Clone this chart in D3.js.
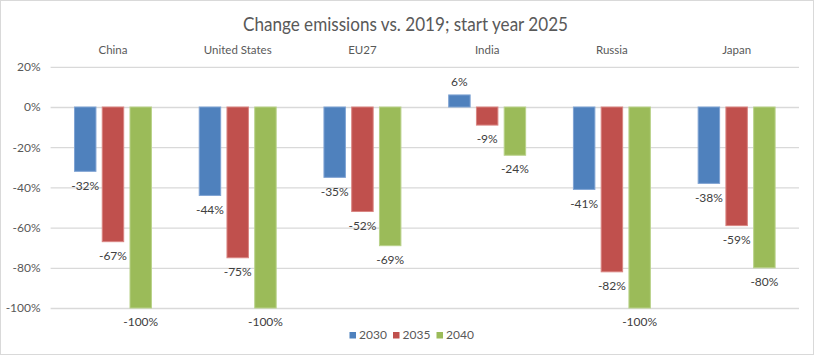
<!DOCTYPE html>
<html>
<head>
<meta charset="utf-8">
<script src="https://cdn.jsdelivr.net/npm/d3@7"></script>
<style>
  html, body { margin: 0; padding: 0; background: #fff; }
  svg { display: block; }
  text { font-family: Lato, "Open Sans", sans-serif; }
</style>
</head>
<body>
<svg id="chart" width="814" height="355"></svg>
<script>
const categories = ["China", "United States", "EU27", "India", "Russia", "Japan"];
const seriesNames = ["2030", "2035", "2040"];
const values2030 = [-32, -44, -35, 6, -41, -38];
const values2035 = [-67, -75, -52, -9, -82, -59];
const values2040 = [-100, -100, -69, -24, -100, -80];
const yTicks = [20, 0, -20, -40, -60, -80, -100];
const colors = ["#4F81BD", "#C0504D", "#9BBB59"];
const strokes = ["#7FA3D3", "#D98582", "#B9D28A"];
const title = "Change emissions vs. 2019; start year 2025";

const seriesValues = [values2030, values2035, values2040];

const W = 814, H = 355;
const svg = d3.select("#chart");

// chart border
svg.append("rect").attr("x", 0.5).attr("y", 0.5).attr("width", W - 1).attr("height", H - 1)
  .attr("fill", "#fff").attr("stroke", "#D9D9D9");

const plot = { left: 50.6, right: 799, top: 66.8, bottom: 308 };

const y = d3.scaleLinear().domain([-100, 20]).range([plot.bottom, plot.top]);
const x0 = d3.scaleBand().domain(categories).range([plot.left, plot.right])
  .paddingInner(0.383).paddingOuter(0.1915);
const x1 = d3.scaleBand().domain(seriesNames).range([0, x0.bandwidth()])
  .paddingInner(0.227).paddingOuter(0);

// title
svg.append("text").attr("x", 405.5).attr("y", 31).attr("text-anchor", "middle")
  .attr("font-size", 18.5).attr("fill", "#595959")
  .attr("textLength", 325).attr("lengthAdjust", "spacingAndGlyphs").text(title);

// gridlines
const yAxis = d3.axisLeft(y).tickValues(yTicks).tickSize(-(plot.right - plot.left))
  .tickPadding(10).tickFormat(d => d + "%");
const gy = svg.append("g").attr("transform", `translate(${plot.left},0)`).call(yAxis);
gy.select(".domain").remove();
gy.selectAll(".tick line").attr("stroke", "#D9D9D9").attr("stroke-width", 1.3);
gy.selectAll(".tick text").attr("fill", "#595959").attr("font-size", 12)
  .attr("font-family", "Lato, sans-serif");

// category labels at top
const xAxis = d3.axisTop(x0).tickSize(0).tickPadding(0);
const gx = svg.append("g").attr("transform", `translate(0,54)`).call(xAxis);
gx.select(".domain").remove();
gx.selectAll(".tick text").attr("fill", "#595959").attr("font-size", 11.5)
  .attr("font-family", "Lato, sans-serif");

// bars
const data = [];
categories.forEach((c, i) => {
  seriesNames.forEach((s, j) => data.push({ cat: c, series: s, si: j, v: seriesValues[j][i] }));
});

svg.append("g").selectAll("rect").data(data).join("rect")
  .attr("x", d => x0(d.cat) + x1(d.series))
  .attr("width", x1.bandwidth())
  .attr("y", d => y(Math.max(0, d.v)))
  .attr("height", d => Math.abs(y(d.v) - y(0)))
  .attr("fill", d => colors[d.si])
  .attr("stroke", d => strokes[d.si])
  .attr("stroke-width", 1);

// data labels
svg.append("g").selectAll("text").data(data).join("text")
  .attr("x", d => x0(d.cat) + x1(d.series) + x1.bandwidth() / 2)
  .attr("y", d => d.v < 0 ? y(d.v) + 14 : y(d.v) - 13)
  .attr("dy", "0.35em")
  .attr("text-anchor", "middle")
  .attr("font-size", 12)
  .attr("fill", "#404040")
  .text(d => d.v + "%");

// legend
const legendX = d3.scaleBand().domain(seriesNames).range([349.5, 480]);
const lg = svg.append("g").selectAll("g").data(seriesNames).join("g")
  .attr("transform", d => `translate(${legendX(d)},335)`);
lg.append("rect").attr("x", 0).attr("y", -3).attr("width", 6.5).attr("height", 6.5)
  .attr("fill", (d, i) => colors[i]);
lg.append("text").attr("x", 9.5).attr("dy", "0.35em").attr("font-size", 12)
  .attr("fill", "#595959").text(d => d);
</script>
</body>
</html>
